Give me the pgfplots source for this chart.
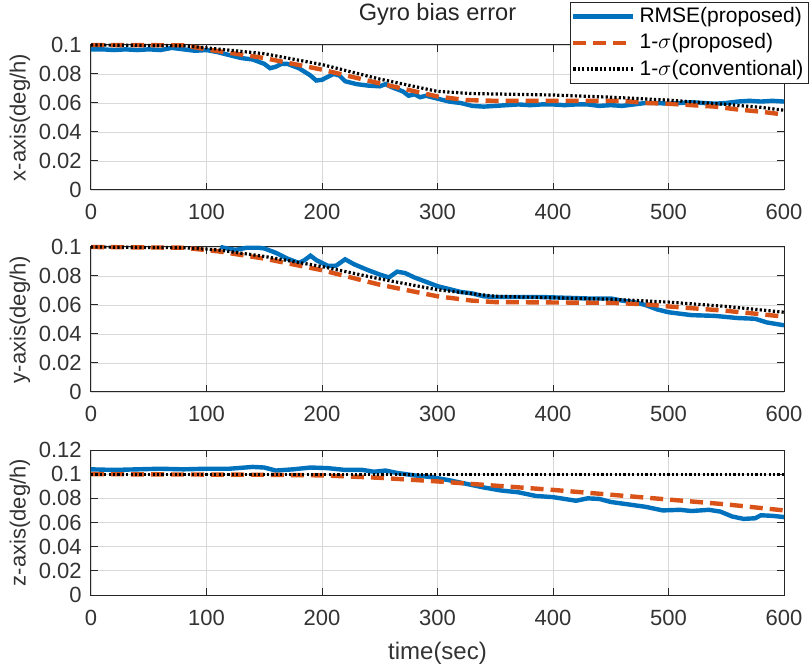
\documentclass[border=0pt]{standalone}
\usepackage{fontspec}
\setmainfont{Liberation Sans}
\usepackage{pgfplots}
\pgfplotsset{compat=1.18}

\definecolor{mblue}{RGB}{0,114,189}
\definecolor{morange}{RGB}{217,83,25}

\pgfplotsset{
  gyro/.style={
    scale only axis, width=346.5pt, height=72.5pt,
    xmin=0, xmax=600, xtick={0,100,200,300,400,500,600},
    ymin=0,
    grid=major, grid style={black!15, line width=0.4pt},
    axis line style={black!85, line width=0.5pt},
    tick style={black!85, line width=0.5pt},
    tick align=inside, major tick length=3.5pt,
    xtick pos=both, ytick pos=both,
    /pgf/number format/assume math mode=true,
    ticklabel style={font=\fontsize{11}{12}\selectfont, text=black!80},
    xticklabel style={anchor=base, yshift=-15pt},
    yticklabel style={anchor=east, inner sep=0pt, xshift=-4.5pt,
      /pgf/number format/fixed, /pgf/number format/precision=2},
    scaled y ticks=false,
    ylabel style={font=\fontsize{11}{12}\selectfont, text=black!80,
      at={(axis description cs:-0.1025,0.5)}, anchor=center},
    xlabel style={font=\fontsize{12}{14}\selectfont, text=black!80,
      at={(axis description cs:0.5,0)}, anchor=center, yshift=-29pt},
    clip=false,
  },
  rmse/.style={mblue, line width=2.2pt},
  sigp/.style={morange, line width=2.2pt, dash pattern=on 6.5pt off 3.5pt},
  sigc/.style={black, line width=1.6pt, dash pattern=on 1.1pt off 1.1pt},
}

% x-axis gyro bias error
\pgfplotstableread{
t v
0 0.097
10 0.097
20 0.0965
30 0.097
40 0.0965
50 0.097
60 0.0965
70 0.098
80 0.097
90 0.096
100 0.0965
110 0.095
120 0.093
130 0.091
140 0.090
150 0.087
155 0.084
160 0.085
165 0.087
170 0.087
180 0.084
190 0.079
195 0.0755
200 0.076
205 0.078
210 0.080
215 0.079
220 0.075
230 0.073
240 0.072
250 0.0715
255 0.073
260 0.071
270 0.068
275 0.065
280 0.066
285 0.064
290 0.065
300 0.063
310 0.061
320 0.060
330 0.058
340 0.0575
350 0.058
360 0.0585
370 0.059
380 0.0585
390 0.059
400 0.059
410 0.0585
420 0.059
430 0.059
440 0.058
450 0.0585
460 0.058
470 0.059
480 0.060
490 0.060
500 0.0595
510 0.060
520 0.0605
530 0.060
540 0.0595
550 0.060
560 0.061
570 0.0615
580 0.061
590 0.0615
600 0.061
}\xrmse
\pgfplotstableread{
t v
0 0.1
80 0.0998
100 0.097
150 0.091
200 0.083
250 0.0735
300 0.0645
325 0.062
350 0.0615
460 0.0615
480 0.0600
500 0.0595
520 0.0585
540 0.0575
560 0.0555
580 0.054
600 0.052
}\xsigp
\pgfplotstableread{
t v
0 0.1
80 0.0995
100 0.098
150 0.094
200 0.0865
250 0.0765
300 0.068
330 0.0665
400 0.0655
450 0.064
500 0.062
550 0.059
580 0.057
600 0.055
}\xsigc

% y-axis gyro bias error
\pgfplotstableread{
t v
112 0.1
118 0.099
125 0.098
135 0.0995
145 0.0995
150 0.099
160 0.096
170 0.092
180 0.089
185 0.091
190 0.094
195 0.091
205 0.087
212 0.087
220 0.0915
228 0.088
240 0.084
250 0.081
258 0.079
265 0.083
272 0.082
280 0.079
290 0.076
300 0.073
310 0.071
320 0.069
330 0.068
340 0.066
350 0.0655
370 0.0655
390 0.0655
410 0.065
430 0.0645
450 0.0645
460 0.063
470 0.062
480 0.060
490 0.057
500 0.055
510 0.054
520 0.053
540 0.0525
560 0.051
575 0.0505
585 0.048
600 0.046
}\yrmse
\pgfplotstableread{
t v
0 0.1
80 0.0995
110 0.097
150 0.092
200 0.084
250 0.074
300 0.066
330 0.063
350 0.062
450 0.0615
480 0.0605
500 0.059
550 0.056
600 0.052
}\ysigp
\pgfplotstableread{
t v
0 0.1
80 0.0995
110 0.098
150 0.0935
200 0.0865
250 0.078
300 0.0705
350 0.066
400 0.065
450 0.064
500 0.062
550 0.059
600 0.055
}\ysigc

% z-axis gyro bias error
\pgfplotstableread{
t v
0 0.104
20 0.1035
40 0.104
60 0.1045
80 0.104
100 0.1045
120 0.1045
140 0.106
150 0.1055
160 0.103
175 0.104
190 0.1055
205 0.105
220 0.1035
235 0.1035
245 0.102
255 0.103
265 0.101
280 0.099
295 0.0975
310 0.095
325 0.092
340 0.089
355 0.0865
370 0.085
385 0.082
400 0.081
410 0.0795
420 0.078
430 0.080
440 0.0795
450 0.077
465 0.075
480 0.073
495 0.070
510 0.0705
520 0.0695
535 0.0705
545 0.069
555 0.065
565 0.063
575 0.0635
580 0.066
590 0.0655
600 0.0645
}\zrmse
\pgfplotstableread{
t v
0 0.1
150 0.0995
200 0.099
250 0.097
300 0.094
350 0.0905
400 0.087
450 0.083
500 0.079
550 0.075
600 0.070
}\zsigp
\pgfplotstableread{
t v
0 0.1
600 0.1
}\zsigc

\begin{document}
\begin{tikzpicture}
\begin{axis}[gyro, name=ax1, at={(0pt,0pt)}, anchor=north west,
  ymax=0.1, ytick={0,0.02,0.04,0.06,0.08,0.1},
  ylabel={x-axis(deg/h)},
  title={Gyro bias error},
  title style={font=\fontsize{11.8}{13}\selectfont, text=black!85,
    at={(axis description cs:0.5,1)}, anchor=base, yshift=6pt},
  legend style={at={(axis description cs:1.036,1.297)}, anchor=north east,
    font=\fontsize{10.5}{11}\selectfont, draw=black!85, line width=0.5pt,
    inner sep=0.5pt, row sep=0pt, cells={anchor=west}, fill=white},
  legend cell align=left,
  legend image code/.code={\draw[#1] (0pt,0pt) -- (30pt,0pt);},
]
\addplot[rmse] table[x=t,y=v] {\xrmse};
\addlegendentry{RMSE(proposed)}
\addplot[sigp] table[x=t,y=v] {\xsigp};
\addlegendentry{1-$\sigma$(proposed)}
\addplot[sigc] table[x=t,y=v] {\xsigc};
\addlegendentry{1-$\sigma$(conventional)}
\end{axis}

\begin{axis}[gyro, name=ax2, at={(0pt,-101pt)}, anchor=north west,
  ymax=0.1, ytick={0,0.02,0.04,0.06,0.08,0.1},
  ylabel={y-axis(deg/h)},
]
\addplot[rmse] table[x=t,y=v] {\yrmse};
\addplot[sigp] table[x=t,y=v] {\ysigp};
\addplot[sigc] table[x=t,y=v] {\ysigc};
\end{axis}

\begin{axis}[gyro, name=ax3, at={(0pt,-202.5pt)}, anchor=north west,
  ymax=0.12, ytick={0,0.02,0.04,0.06,0.08,0.1,0.12},
  ylabel={z-axis(deg/h)},
  xlabel={time(sec)},
]
\addplot[rmse] table[x=t,y=v] {\zrmse};
\addplot[sigp] table[x=t,y=v] {\zsigp};
\addplot[sigc] table[x=t,y=v] {\zsigc};
\end{axis}

\pgfresetboundingbox
\path (-45.5pt,22.5pt) rectangle (360.5pt,-311pt);
\end{tikzpicture}
\end{document}
